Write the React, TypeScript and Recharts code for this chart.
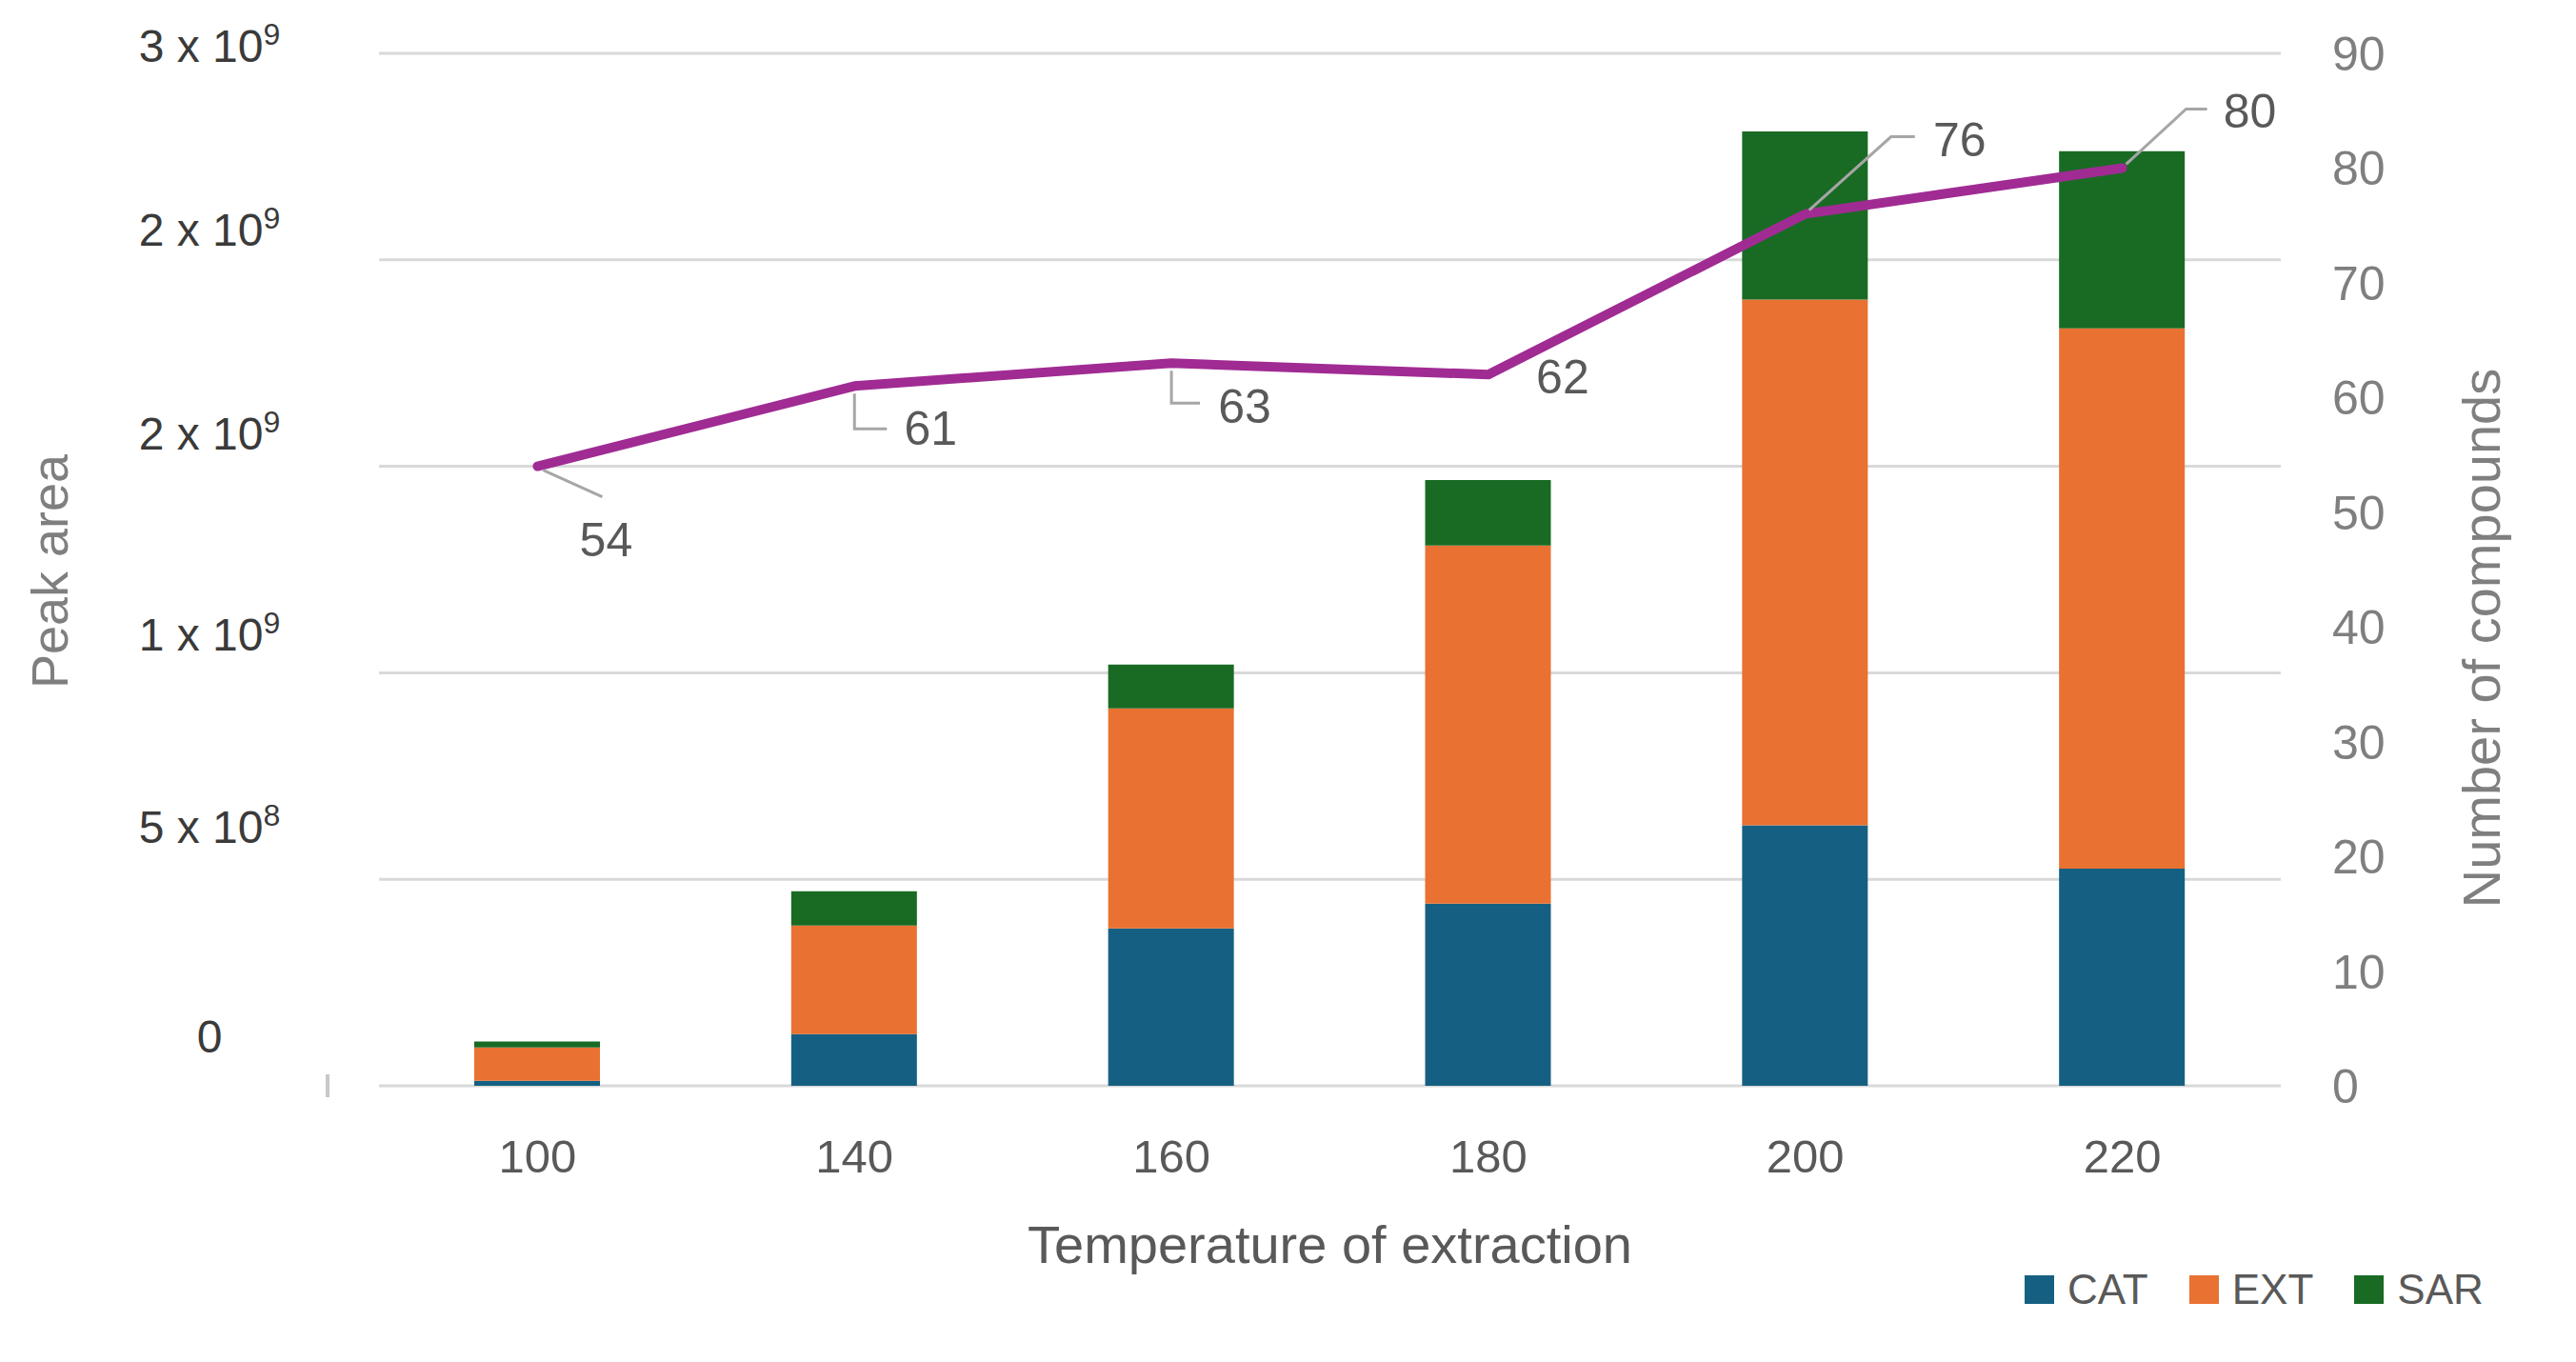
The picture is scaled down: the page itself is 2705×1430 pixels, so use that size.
import { ComposedChart, Bar, Line, XAxis, YAxis, CartesianGrid, LabelList, Label } from 'recharts';

const temperatures = ['100', '140', '160', '180', '200', '220'];
const catArea = [0.012e9, 0.125e9, 0.381e9, 0.441e9, 0.631e9, 0.526e9];
const extArea = [0.081e9, 0.263e9, 0.533e9, 0.867e9, 1.273e9, 1.308e9];
const sarArea = [0.014e9, 0.083e9, 0.106e9, 0.159e9, 0.407e9, 0.429e9];
const compounds = [54, 61, 63, 62, 76, 80];

const peakTicks = [0, 5e8, 1e9, 1.5e9, 2e9, 2.5e9];
const compoundTicks = [0, 10, 20, 30, 40, 50, 60, 70, 80, 90];

const series = [
  { key: 'CAT', color: '#156082' },
  { key: 'EXT', color: '#E97132' },
  { key: 'SAR', color: '#196B24' },
];

const data = temperatures.map((t, i) => ({
  temp: t,
  CAT: catArea[i],
  EXT: extArea[i],
  SAR: sarArea[i],
  compounds: compounds[i],
}));

const FONT = '"Liberation Sans", Arial, sans-serif';

// the left labels sit a little above their gridlines, unevenly
const leftTickShift = [-35, -38, -23, -18, -15, 9];

function LeftTick({ x, y, payload, index }: any) {
  const v = payload.value as number;
  const cx = x - 178;
  const ty = y + leftTickShift[index];
  if (v === 0) {
    return (
      <text x={cx} y={ty} textAnchor="middle" fontSize={48} fill="#3a3a3a" fontFamily={FONT}>
        0
      </text>
    );
  }
  const exp = Math.floor(Math.log10(v));
  const mant = Math.round(v / Math.pow(10, exp));
  return (
    <text x={cx} y={ty} textAnchor="middle" fontSize={48} fill="#3a3a3a" fontFamily={FONT}>
      {`${mant} x 10`}
      <tspan dy={-18} fontSize={32}>{exp}</tspan>
    </text>
  );
}

function RightTick({ x, y, payload }: any) {
  return (
    <text x={x + 54} y={y} dy={18} textAnchor="start" fontSize={50} fill="#7f7f7f" fontFamily={FONT}>
      {payload.value}
    </text>
  );
}

function BottomTick({ x, y, payload }: any) {
  return (
    <text x={x} y={y + 91} textAnchor="middle" fontSize={49} fill="#595959" fontFamily={FONT}>
      {payload.value}
    </text>
  );
}

// leader lines + label placement, relative to each point
const labelLayout = [
  { lead: [[6, 4], [68, 32]], at: [72, 94] },
  { lead: [[0, 8], [0, 45], [34, 45]], at: [80, 62] },
  { lead: [[0, 8], [0, 42], [30, 42]], at: [77, 63] },
  { lead: [], at: [78, 20] },
  { lead: [[4, -4], [90, -81], [115, -81]], at: [162, -61] },
  { lead: [[4, -4], [67, -62], [89, -62]], at: [134, -42] },
];

function CompoundLabel({ x, y, value, index }: any) {
  const l = labelLayout[index];
  const pts = l.lead.map(([dx, dy]) => `${x + dx},${y + dy}`).join(' ');
  return (
    <g>
      {l.lead.length > 0 && (
        <polyline points={pts} fill="none" stroke="#a6a6a6" strokeWidth={3} />
      )}
      <text x={x + l.at[0]} y={y + l.at[1]} textAnchor="middle" fontSize={50} fill="#595959" fontFamily={FONT}>
        {value}
      </text>
    </g>
  );
}

export default function App() {
  return (
    <div style={{ position: 'absolute', left: 0, top: 0, width: 2705, height: 1430, background: '#fff' }}>
      <ComposedChart
        width={2705}
        height={1430}
        data={data}
        margin={{ top: 56, right: 0, bottom: 140, left: 0 }}
      >
        <CartesianGrid yAxisId="left" vertical={false} stroke="#d9d9d9" strokeWidth={3} />
        <XAxis
          dataKey="temp"
          height={150}
          axisLine={false}
          tickLine={false}
          tickSize={0}
          tickMargin={0}
          tick={<BottomTick />}
          interval={0}
        >
          <Label
            content={({ viewBox }: any) => (
              <text
                x={viewBox.x + viewBox.width / 2}
                y={1326}
                textAnchor="middle"
                fontSize={56}
                fill="#595959"
                fontFamily={FONT}
              >
                Temperature of extraction
              </text>
            )}
          />
        </XAxis>
        <YAxis
          yAxisId="left"
          orientation="left"
          width={398}
          domain={[0, 2.5e9]}
          ticks={peakTicks}
          axisLine={false}
          tickLine={false}
          tickSize={0}
          tickMargin={0}
          tick={<LeftTick />}
          interval={0}
        >
          <Label
            content={() => (
              <text
                x={52}
                y={600}
                transform="rotate(-90 52 600)"
                textAnchor="middle"
                dominantBaseline="central"
                fontSize={54}
                fill="#7f7f7f"
                fontFamily={FONT}
              >
                Peak area
              </text>
            )}
          />
        </YAxis>
        <YAxis
          yAxisId="right"
          orientation="right"
          width={310}
          domain={[0, 90]}
          ticks={compoundTicks}
          axisLine={false}
          tickLine={false}
          tickSize={0}
          tickMargin={0}
          tick={<RightTick />}
          interval={0}
        >
          <Label
            content={() => (
              <text
                x={2605}
                y={670}
                transform="rotate(-90 2605 670)"
                textAnchor="middle"
                dominantBaseline="central"
                fontSize={56}
                fill="#7f7f7f"
                fontFamily={FONT}
              >
                Number of compounds
              </text>
            )}
          />
        </YAxis>
        {series.map((s) => (
          <Bar
            key={s.key}
            yAxisId="left"
            dataKey={s.key}
            stackId="area"
            fill={s.color}
            barSize={132}
            isAnimationActive={false}
          />
        ))}
        <Line
          yAxisId="right"
          dataKey="compounds"
          stroke="#A02B93"
          strokeWidth={10}
          strokeLinejoin="round"
          strokeLinecap="round"
          dot={false}
          activeDot={false}
          isAnimationActive={false}
        >
          <LabelList dataKey="compounds" content={<CompoundLabel />} />
        </Line>
      </ComposedChart>

      {/* stray tick at the left end of the baseline */}
      <div style={{ position: 'absolute', left: 342, top: 1128, width: 4, height: 24, background: '#c8c8c8' }} />

      <div
        style={{
          position: 'absolute',
          left: 2126,
          top: 1339,
          display: 'flex',
          alignItems: 'center',
          fontFamily: FONT,
          fontSize: 44,
          color: '#595959',
          lineHeight: '30px',
        }}
      >
        {series.map((s) => (
          <div key={s.key} style={{ display: 'flex', alignItems: 'center', marginRight: 43 }}>
            <div style={{ width: 31, height: 30, background: s.color, marginRight: 14 }} />
            <span>{s.key}</span>
          </div>
        ))}
      </div>
    </div>
  );
}
